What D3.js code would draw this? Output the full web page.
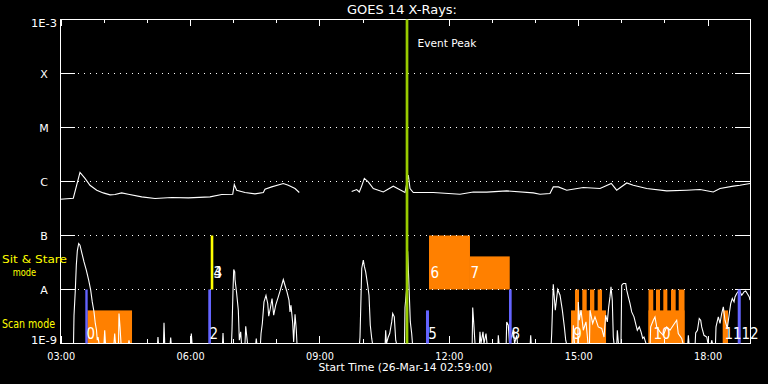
<!DOCTYPE html>
<html><head><meta charset="utf-8">
<script src="https://cdn.jsdelivr.net/npm/d3@7"></script>
<style>
html,body{margin:0;padding:0;background:#000;}
svg{display:block;background:#000;}
text{font-family:"DejaVu Sans",sans-serif;fill:#fff;}
</style></head><body>
<svg id="c" width="768" height="384"></svg>
<script>
// ---------- data ----------
const titleText = "GOES 14 X-Rays:";
const xTitle = "Start Time (26-Mar-14 02:59:00)";
const totalMinutes = 960;                      // 02:59 .. 18:59
const hourTicks = [1,61,121,181,241,301,361,421,481,541,601,661,721,781,841,901]; // minutes after 02:59
const majorTicks = [1,181,361,541,721,901];
const majorLabels = ["03:00","06:00","09:00","12:00","15:00","18:00"];
const levelValues = [1e-9,1e-8,1e-7,1e-6,1e-5,1e-4,1e-3];
const levelLabels = ["1E-9","A","B","C","M","X","1E-3"];
const gridLevels = [1e-8,1e-7,1e-6,1e-5,1e-4];

// GOES long channel (1-8 A): [minute, flux]; null = data gap
const longChannel = [[0.5,4.7e-7],[18.5,4.9e-7],[27.8,1.47e-6],[34.8,1.14e-6],[41.7,8.5e-7],[51.1,6.9e-7],[60.2,6.15e-7],[69.6,5.65e-7],[76.5,5.75e-7],[85.8,6.15e-7],[95.0,5.8e-7],[113.7,5.2e-7],[132.2,4.85e-7],[155.4,5.05e-7],[178.5,4.97e-7],[208.7,5.2e-7],[225.0,5.75e-7],[240.3,5.8e-7],[242.5,8.8e-7],[245.8,6.9e-7],[257.4,6.25e-7],[271.3,5.9e-7],[282.9,6.25e-7],[285.2,7.2e-7],[294.5,7.95e-7],[310.7,9.2e-7],[317.6,8.5e-7],[327.0,7.4e-7],[332.9,6.25e-7],[370,null],[405.8,6.5e-7],[412.8,7.1e-7],[416.4,6.4e-7],[419.8,8.3e-7],[423.4,1.14e-6],[428.9,9.85e-7],[435.9,7.4e-7],[449.8,6.4e-7],[463.7,8.2e-7],[480.0,6.25e-7],[484.6,1.31e-6],[487.0,7.4e-7],[491.5,6.25e-7],[519.4,6.25e-7],[556.5,5.8e-7],[575.0,6.4e-7],[593.7,6.35e-7],[621.5,6.7e-7],[658.5,6.15e-7],[667.8,5.8e-7],[681.7,6.0e-7],[686.3,7.95e-7],[693.3,7.95e-7],[705.0,6.9e-7],[728.1,7.75e-7],[751.3,7.4e-7],[767.0,9.2e-7],[774.5,6.9e-7],[788.5,9.4e-7],[797.6,8.5e-7],[816.3,7.4e-7],[844.1,6.7e-7],[871.9,6.9e-7],[890.4,7.1e-7],[908.9,6.4e-7],[918.3,7.4e-7],[936.8,8.2e-7],[946.1,8.5e-7],[960,9.2e-7]];

// GOES short channel (0.5-4 A): [minute, flux]
const shortChannel = [[0,1e-9],[18.8,1e-9],[19.5,3.34e-9],[21.3,9.71e-9],[22.7,2.82e-8],[24.1,5.19e-8],[26.0,7.11e-8],[27.8,6.61e-8],[30.6,4.64e-8],[33.4,3.24e-8],[36.6,2.28e-8],[39.9,1.49e-8],[42.7,9.71e-9],[44.9,5.89e-9],[47.3,3.85e-9],[49.1,2.35e-9],[50.8,1.76e-9],[51.9,1.15e-9],[52.9,1.32e-9],[54.3,1e-9],
[61.2,1e-9],[62.2,1.76e-9],[63.3,1e-9],[75.1,1e-9],[76.1,1.53e-9],[77.2,1e-9],[81.4,1e-9],[82.1,3.59e-9],[83.5,2.03e-9],[84.9,1e-9],[95.3,1e-9],[96.0,1.15e-9],[96.7,1e-9],
[135.7,1e-9],[136.3,1.32e-9],[137.0,1e-9],[144.0,1e-9],[144.7,2.41e-9],[145.7,1e-9],[153.3,1e-9],[154.0,1.29e-9],[154.7,1e-9],[182.0,1e-9],[182.7,1.53e-9],[183.7,1e-9],
[226.1,1e-9],[226.8,1.57e-9],[227.5,1e-9],[238.6,1e-9],[239.3,1.76e-9],[240.7,9.71e-9],[241.7,2.35e-8],[243.1,2.12e-8],[243.5,1.53e-8],[245.8,8.43e-9],[248.1,4.14e-9],[249.5,1.15e-9],[251.4,1.64e-9],[252.5,1e-9],
[257.4,1e-9],[258.4,2.09e-9],[259.7,1.42e-9],[260.9,1e-9],[272.4,1e-9],[273.1,1.24e-9],[273.8,1e-9],
[278.9,1e-9],[279.7,1.53e-9],[281.5,2.35e-9],[283.8,5.89e-9],[286.6,7.74e-9],[289.0,5.51e-9],[290.4,3.2e-9],[292.6,4.45e-9],[295.0,6.81e-9],[297.3,3.34e-9],[300.1,5.12e-9],[303.7,7.29e-9],[306.1,9.3e-9],[308.5,1.2e-8],[310.7,1.53e-8],[313.0,1.2e-8],[315.8,9.03e-9],[318.6,6.34e-9],[320.0,3.85e-9],[321.4,5.12e-9],[323.8,2.35e-9],[325.1,1.07e-9],[327.0,3.49e-9],[328.8,1.76e-9],[329.7,1e-9],
[416.7,1e-9],[417.4,1.32e-9],[419.8,2.45e-8],[422.0,3.49e-8],[423.4,2.7e-8],[425.3,2.12e-8],[428.1,1.2e-8],[429.9,7.84e-9],[431.7,2.18e-9],[433.7,1.24e-9],[434.8,1e-9],
[452.4,1e-9],[453.1,1.76e-9],[454.2,1e-9],[456.7,1.32e-9],[458.7,1.53e-9],[461.5,2.51e-9],[462.9,3.59e-9],[465.1,3.11e-9],[467.1,1.15e-9],[468.2,1e-9],
[479.3,1e-9],[480.0,4.64e-9],[482.1,9.71e-9],[483.7,5.12e-8],[485.5,1.2e-8],[487.4,2.51e-9],[489.3,1.53e-9],[490.4,1e-9],
[573.5,1e-9],[574.2,4.64e-9],[576.0,2.03e-9],[577.4,1e-9],[583.6,1e-9],[584.3,1.64e-9],[585.7,1e-9],[588.5,1.64e-9],[589.9,1e-9],[592.7,1.53e-9],[594.1,1e-9],
[609.4,1e-9],[609.8,1.42e-9],[610.8,1e-9],[620.8,1e-9],[621.5,2.51e-9],[623.7,2.18e-9],[625.4,1e-9],[630.7,1.76e-9],[632.4,1e-9],[635.4,1.42e-9],[636.5,1e-9],
[654.2,1e-9],[654.9,1.42e-9],[655.6,1e-9],
[683.4,1e-9],[684.1,1.53e-9],[686.3,1.25e-8],[689.1,4.14e-9],[692.4,1e-8],[695.7,7.84e-9],[698.9,4.14e-9],[701.7,2.03e-9],[703.6,1.15e-9],[704.7,1e-9],
[713.5,1e-9],[714.2,2.18e-9],[715.8,1e-9],[720.4,1e-9],[721.1,5.89e-9],[722.5,2.7e-9],[724.9,4.14e-9],[728.1,1.76e-9],[731.8,2.51e-9],[734.6,1e-9],
[736.7,1e-9],[737.4,4.14e-9],[741.1,2.35e-9],[744.3,3.11e-9],[748.9,2.03e-9],[753.7,1.9e-9],[756.9,1.32e-9],[759.2,3.34e-9],[761.5,2.51e-9],[763.4,4.76e-9],[765.2,7.29e-9],[766.6,1.12e-8],[768.4,6.34e-9],[769.8,1.32e-9],[770.8,1e-9],
[774.7,1e-9],[775.4,1.76e-9],[777.0,1e-9],
[780.5,1e-9],[781.5,1.2e-8],[783.7,1.29e-8],[787.1,1.29e-8],[788.5,9.71e-9],[790.7,7.29e-9],[793.0,5.51e-9],[795.4,3.85e-9],[798.6,3.11e-9],[801.4,2.18e-9],[803.2,1.76e-9],[806.0,2.03e-9],[808.4,1.64e-9],[810.7,1.24e-9],[812.5,1.32e-9],[815.3,1e-9],
[821.1,1e-9],[821.8,2.03e-9],[825.5,2.7e-9],[827.8,3.11e-9],[830.2,2.03e-9],[834.8,1.64e-9],[839.4,1.42e-9],[844.1,2.03e-9],[848.7,1.76e-9],[853.3,2.18e-9],[858.0,2.7e-9],[860.2,1.53e-9],[865.0,1.24e-9],[866.8,1e-9],
[873.5,1e-9],[874.2,1.42e-9],[875.1,1e-9],
[883.7,1e-9],[884.4,1.57e-9],[886.9,1.76e-9],[889.4,2.9e-9],[891.4,2.7e-9],[892.8,2.03e-9],[896.0,1.42e-9],[899.8,1.32e-9],[901.6,1e-9],
[906.0,1e-9],[906.7,1.15e-9],[907.8,1e-9],
[912.0,1e-9],[912.7,2.03e-9],[915.9,3.11e-9],[918.3,2.35e-9],[920.6,3.59e-9],[922.9,4.76e-9],[925.2,2.7e-9],[928.4,1.9e-9],[931.2,3.59e-9],[933.2,5.51e-9],[935.4,6.81e-9],[937.8,5.89e-9],[939.1,7.29e-9],[941.5,8.43e-9],[945.1,9.71e-9],[948.5,7.84e-9],[951.7,9.03e-9],[954.0,9.42e-9],[956.8,8.18e-9],[959.0,7.29e-9],[960,6.34e-9]];

// observation blocks (orange)
const obsStart  = [38.0,513.4,570.4,711.0,716.5,726.7,737.4,748.1,818.8,818.8,829.2,839.4,850.1,860.8,922.0];
const obsEnd    = [100.2,570.4,625.7,759.7,722.1,732.8,743.4,754.1,868.9,825.4,834.8,845.0,856.6,868.9,929.4];
const obsTop    = [4.1e-9,1e-7,4.1e-8,4.1e-9,1e-8,1e-8,1e-8,1e-8,4.1e-9,1e-8,1e-8,1e-8,1e-8,1e-8,4.1e-9];
const obsBottom = [1e-9,1e-8,1e-8,1e-9,1e-9,1e-9,1e-9,1e-9,1e-9,1e-9,1e-9,1e-9,1e-9,1e-9,1e-9];
// scan-mode markers (blue)
const scanStart = [35.2,206.3,509.2,624.7,942.9];
const scanEnd   = [38.5,210.1,513.4,628.4,947.1];
const scanTop   = [1e-8,1e-8,4.1e-9,1e-8,1e-8];
// sit & stare marker (yellow)
const stareStart = [209.7];
const stareEnd   = [213.3];
const stareTop   = [1e-7];
const stareBottom= [1e-8];
// numbered labels
const obsLabels     = ["0","2","3","4","5","6","7","8","9","10","11","12"];
const obsLabelTimes = [36.2,207.3,212.9,212.9,511.6,514.8,570.4,627.5,713.3,825,923.8,947.5];
const obsLabelMode  = ["scan","scan","stare","stare","scan","stare","stare","scan","scan","scan","scan","scan"];
const eventPeakTime = 482.8;

// ---------- drawing ----------
const svg = d3.select("#c");
const x = d3.scaleLinear().domain([0,totalMinutes]).range([60,750]);
const y = d3.scaleLog().domain([1e-9,1e-3]).range([343,19]);

// observation blocks
svg.append("g").selectAll("rect").data(obsStart).join("rect")
  .attr("x",(d,i)=>x(d)).attr("width",(d,i)=>x(obsEnd[i])-x(d))
  .attr("y",(d,i)=>y(obsTop[i])+0.5).attr("height",(d,i)=>y(obsBottom[i])-y(obsTop[i]))
  .attr("fill","#ff8000");

// dotted grid
svg.append("g").selectAll("line").data(gridLevels).join("line")
  .attr("x1",78).attr("x2",735).attr("y1",d=>y(d)+0.5).attr("y2",d=>y(d)+0.5)
  .attr("stroke","#fff").attr("stroke-width",1).attr("stroke-dasharray","1,5");

// axes
function styleAxis(g){ g.attr("color","#fff").attr("shape-rendering","crispEdges"); g.selectAll("text").remove(); }
svg.append("g").attr("transform","translate(0,19)")
  .call(d3.axisBottom(x).tickValues(hourTicks).tickSizeInner(4).tickSizeOuter(0).tickFormat("")).call(styleAxis);
svg.append("g").attr("transform","translate(0,19)")
  .call(d3.axisBottom(x).tickValues(majorTicks).tickSizeInner(7).tickSizeOuter(0).tickFormat("")).call(styleAxis);
svg.append("g").attr("transform","translate(0,343)")
  .call(d3.axisTop(x).tickValues(hourTicks).tickSizeInner(4).tickSizeOuter(0).tickFormat("")).call(styleAxis);
svg.append("g").attr("transform","translate(0,343)")
  .call(d3.axisTop(x).tickValues(majorTicks).tickSizeInner(7).tickSizeOuter(0).tickFormat("")).call(styleAxis);
svg.append("g").attr("transform","translate(60,0)")
  .call(d3.axisRight(y).tickValues(levelValues).tickSizeInner(15).tickSizeOuter(0).tickFormat("")).call(styleAxis);
svg.append("g").attr("transform","translate(750,0)")
  .call(d3.axisLeft(y).tickValues(levelValues).tickSizeInner(15).tickSizeOuter(0).tickFormat("")).call(styleAxis);

// curves
const line = d3.line().defined(d=>d[1]!=null)
  .x(d=>x(d[0])).y(d=>y(Math.max(d[1],1e-9))+0.5);
svg.append("path").datum(longChannel).attr("d",line)
  .attr("fill","none").attr("stroke","#fff").attr("stroke-width",1.1);
svg.append("path").datum(shortChannel).attr("d",line)
  .attr("fill","none").attr("stroke","#fff").attr("stroke-width",1.1);

// scan markers
svg.append("g").selectAll("rect").data(scanStart).join("rect")
  .attr("x",d=>x(d)).attr("width",(d,i)=>x(scanEnd[i])-x(d))
  .attr("y",(d,i)=>y(scanTop[i])+0.5).attr("height",(d,i)=>y(1e-9)-y(scanTop[i]))
  .attr("fill","#6464ff");
// sit & stare marker
svg.append("g").selectAll("rect").data(stareStart).join("rect")
  .attr("x",d=>x(d)).attr("width",(d,i)=>x(stareEnd[i])-x(d))
  .attr("y",(d,i)=>y(stareTop[i])+0.5).attr("height",(d,i)=>y(stareBottom[i])-y(stareTop[i]))
  .attr("fill","#ffff00");

// event peak
svg.append("line").attr("x1",x(eventPeakTime)).attr("x2",x(eventPeakTime))
  .attr("y1",y(1e-3)+0.5).attr("y2",y(1e-9)+0.5)
  .attr("stroke","#99cc00").attr("stroke-width",2.7);
svg.append("text").attr("x",x(eventPeakTime)+10.5).attr("y",47)
  .attr("font-size",11).attr("textLength",59).attr("lengthAdjust","spacingAndGlyphs").text("Event Peak");

// numbered labels
svg.append("g").selectAll("text").data(obsLabels).join("text")
  .attr("x",(d,i)=>x(obsLabelTimes[i])+0.5)
  .attr("y",(d,i)=>obsLabelMode[i]==="scan" ? y(1e-9)-4 : y(1e-8)-11.5)
  .attr("font-size",15).attr("font-weight",300)
  .style("font-family",'"DejaVu Sans Condensed","DejaVu Sans",sans-serif')
  .text(d=>d);

// title
svg.append("text").attr("x",402).attr("y",13.5).attr("text-anchor","middle")
  .attr("font-size",12).attr("textLength",110).attr("lengthAdjust","spacingAndGlyphs").text(titleText);

// y labels
const yOff = {"1E-3":7.5,"1E-9":0.5};
svg.append("g").selectAll("text").data(levelValues).join("text")
  .attr("x",44).attr("text-anchor","middle")
  .attr("y",(d,i)=>y(d)+(yOff[levelLabels[i]]!==undefined?yOff[levelLabels[i]]:4.5))
  .attr("font-size",11)
  .each(function(d,i){ if(levelLabels[i].length>1) d3.select(this).attr("textLength",26).attr("lengthAdjust","spacingAndGlyphs"); })
  .text((d,i)=>levelLabels[i]);

// x labels
svg.append("g").selectAll("text").data(majorTicks).join("text")
  .attr("x",d=>x(d)+0.5).attr("y",359.5).attr("text-anchor","middle")
  .attr("font-size",11).attr("textLength",28).attr("lengthAdjust","spacingAndGlyphs")
  .text((d,i)=>majorLabels[i]);
svg.append("text").attr("x",405.5).attr("y",371).attr("text-anchor","middle")
  .attr("font-size",11).attr("textLength",174).attr("lengthAdjust","spacingAndGlyphs").text(xTitle);

// mode labels
const modeG = svg.append("g");
modeG.append("text").attr("x",2).attr("y",262.5).attr("font-size",11).attr("textLength",65)
  .attr("lengthAdjust","spacingAndGlyphs").style("fill","#ffff00").text("Sit & Stare");
modeG.append("text").attr("x",12.7).attr("y",275.8).attr("font-size",11).attr("textLength",23.5)
  .attr("lengthAdjust","spacingAndGlyphs").style("fill","#ffff00").text("mode");
modeG.append("text").attr("x",2).attr("y",328).attr("font-size",11.5).attr("textLength",53)
  .attr("lengthAdjust","spacingAndGlyphs").style("fill","#ffff00").text("Scan mode");
</script>
</body></html>
